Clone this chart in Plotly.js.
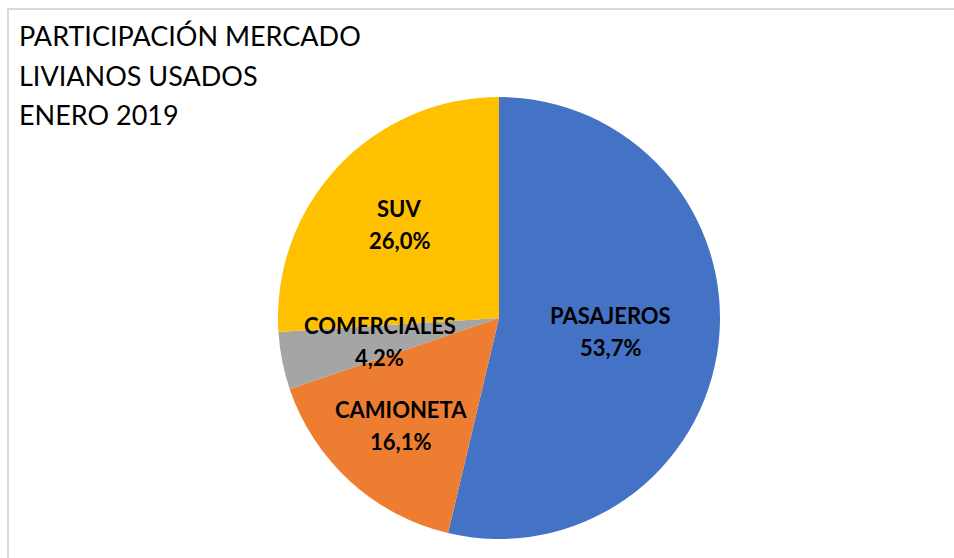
<!DOCTYPE html>
<html>
<head>
<meta charset="utf-8">
<script src="https://cdn.plot.ly/plotly-3.0.1.min.js"></script>
<style>
html,body{margin:0;padding:0;background:#fff;}
#wrap{position:relative;width:954px;height:558px;overflow:hidden;}
#frame{position:absolute;left:7px;top:8px;width:1000px;height:600px;border-top:2px solid #d9d9d9;border-left:2px solid #d9d9d9;pointer-events:none;}
#chart{position:absolute;left:0;top:0;width:954px;height:558px;}
</style>
</head>
<body>
<div id="wrap"><div id="chart"></div><div id="frame"></div></div>
<script>
var categories = ["PASAJEROS", "CAMIONETA", "COMERCIALES", "SUV"];
var shares = [53.7, 16.1, 4.2, 26.0];
var colors = ["#4472C4", "#ED7D31", "#A5A5A5", "#FFC000"];
var titleLines = ["PARTICIPACIÓN MERCADO", "LIVIANOS USADOS", "ENERO 2019"];

// label placement style: fraction of radius along each slice's bisector
var labelRadius = [0.51, 0.66, 0.55, 0.62];

var W = 954, H = 558;
var cxPx = 499, cyPx = 318, Rpx = 221;

var trace = {
  type: "pie",
  labels: categories,
  values: shares,
  sort: false,
  direction: "clockwise",
  rotation: 0,
  marker: {colors: colors, line: {color: "#ffffff", width: 0}},
  textinfo: "none",
  hoverinfo: "none",
  domain: {x: [(cxPx - Rpx)/W, (cxPx + Rpx)/W], y: [1 - (cyPx + Rpx)/H, 1 - (cyPx - Rpx)/H]},
  showlegend: false
};

function fmt(v) { return v.toFixed(1).replace(".", ",") + "%"; }

var annotations = [];
var total = shares.reduce(function(a, b) { return a + b; }, 0);
var cum = 0;
var labFont = {family: "Lato, 'Open Sans', sans-serif", size: 22, color: "#000000"};
for (var i = 0; i < shares.length; i++) {
  var mid = (cum + shares[i] / 2) / total * 2 * Math.PI;
  cum += shares[i];
  var ax = (cxPx + labelRadius[i] * Rpx * Math.sin(mid)) / W;
  var ay = 1 - (cyPx - labelRadius[i] * Rpx * Math.cos(mid)) / H;
  annotations.push({xref: "paper", yref: "paper", x: ax, y: ay, xanchor: "center", yanchor: "middle",
    text: "<b>" + categories[i] + "</b>", showarrow: false, font: labFont, yshift: 16});
  annotations.push({xref: "paper", yref: "paper", x: ax, y: ay, xanchor: "center", yanchor: "middle",
    text: "<b>" + fmt(shares[i]) + "</b>", showarrow: false, font: labFont, yshift: -16});
}

var titleY = [36, 75, 114];
for (var j = 0; j < titleLines.length; j++) {
  annotations.push({xref: "paper", yref: "paper", x: 17/W, y: 1 - titleY[j]/H, xanchor: "left", yanchor: "middle",
    text: titleLines[j], showarrow: false,
    font: {family: "Lato, 'Open Sans', sans-serif", size: 27, color: "#000000"}});
}

var layout = {
  width: W,
  height: H,
  margin: {l: 0, r: 0, t: 0, b: 0},
  paper_bgcolor: "#ffffff",
  annotations: annotations,
  showlegend: false
};

Plotly.newPlot("chart", [trace], layout, {displayModeBar: false, staticPlot: true});
</script>
</body>
</html>
